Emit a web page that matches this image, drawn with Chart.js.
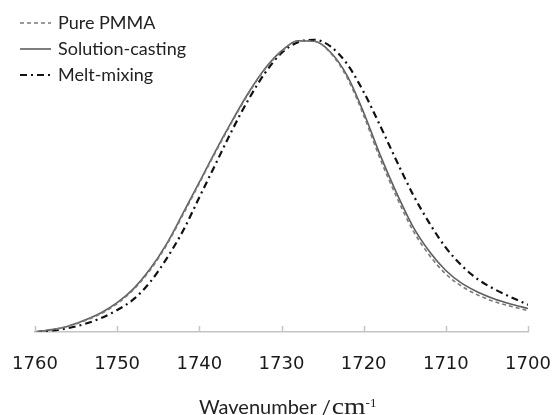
<!DOCTYPE html>
<html>
<head>
<meta charset="utf-8">
<script src="https://cdn.jsdelivr.net/npm/chart.js@4.4.0/dist/chart.umd.min.js"></script>
<style>
  html, body { margin: 0; padding: 0; background: #fff; }
  #wrap { width: 555px; height: 415px; position: relative; }
</style>
</head>
<body>
<div id="wrap"><canvas id="ftir"></canvas></div>
<script>
// C=O stretching band, normalised absorbance every 2 cm-1
var wavenumbers = [1760, 1758, 1756, 1754, 1752, 1750, 1748, 1746, 1744, 1742, 1740,
    1738, 1736, 1734, 1732, 1730, 1728, 1726, 1724, 1722, 1720,
    1718, 1716, 1714, 1712, 1710, 1708, 1706, 1704, 1702, 1700];

var purePMMA = [0.000, 0.007, 0.019, 0.038, 0.062, 0.097, 0.145, 0.211, 0.296, 0.400, 0.508,
    0.616, 0.719, 0.815, 0.898, 0.958, 0.994, 0.993, 0.952, 0.868, 0.740,
    0.592, 0.462, 0.347, 0.262, 0.198, 0.155, 0.125, 0.103, 0.087, 0.073];

var solutionCasting = [0.000, 0.008, 0.020, 0.040, 0.065, 0.100, 0.148, 0.215, 0.300, 0.405, 0.512,
    0.620, 0.722, 0.818, 0.900, 0.960, 0.995, 0.993, 0.955, 0.875, 0.750,
    0.605, 0.475, 0.360, 0.275, 0.210, 0.165, 0.135, 0.112, 0.095, 0.080];

var meltMixing = [0.000, 0.005, 0.013, 0.027, 0.047, 0.075, 0.112, 0.170, 0.250, 0.345, 0.460,
    0.575, 0.690, 0.795, 0.885, 0.953, 0.990, 0.998, 0.975, 0.915, 0.820,
    0.705, 0.585, 0.470, 0.372, 0.288, 0.225, 0.178, 0.145, 0.118, 0.093];

var xTicks = [1760, 1750, 1740, 1730, 1720, 1710, 1700];
var seriesNames = ['Pure PMMA', 'Solution-casting', 'Melt-mixing'];

function toPoints(values) {
    return wavenumbers.map(function (w, i) { return {x: w, y: values[i]}; });
}

// short tick marks pointing up into the plot
var innerTicks = {
    id: 'innerTicks',
    afterDraw: function (chart) {
        var ctx = chart.ctx, xs = chart.scales.x, bottom = chart.chartArea.bottom;
        ctx.save();
        ctx.strokeStyle = '#c4c4c4';
        ctx.lineWidth = 1.5;
        for (var v of xTicks) {
            var px = Math.round(xs.getPixelForValue(v)) + 0.5;
            ctx.beginPath();
            ctx.moveTo(px, bottom);
            ctx.lineTo(px, bottom - 6);
            ctx.stroke();
        }
        ctx.restore();
    }
};

// legend stacked in the top left corner
var cornerLegend = {
    id: 'cornerLegend',
    afterDraw: function (chart) {
        var ctx = chart.ctx;
        ctx.save();
        chart.data.datasets.forEach(function (ds, i) {
            var y = 23 + i * 26;
            ctx.setLineDash(ds.borderDash || []);
            ctx.strokeStyle = ds.borderColor;
            ctx.lineWidth = ds.borderWidth;
            ctx.beginPath();
            ctx.moveTo(20, y);
            ctx.lineTo(51, y);
            ctx.stroke();
            ctx.setLineDash([]);
            ctx.fillStyle = '#222';
            ctx.font = '18px Lato';
            ctx.textBaseline = 'alphabetic';
            ctx.fillText(ds.label, 58, y + 5.5);
        });
        ctx.restore();
    }
};

// axis title with a serif unit and superscript
var axisTitle = {
    id: 'axisTitle',
    afterDraw: function (chart) {
        var ctx = chart.ctx;
        var x = 199, y = 414;
        ctx.save();
        ctx.fillStyle = '#222';
        ctx.textBaseline = 'alphabetic';
        ctx.font = '20px Lato';
        var lead = 'Wavenumber /';
        ctx.fillText(lead, x, y);
        x += ctx.measureText(lead).width + 1;
        ctx.font = '24px "Liberation Serif"';
        ctx.save();
        ctx.translate(x, y);
        ctx.scale(1.15, 1);
        ctx.fillText('cm', 0, 0);
        x += ctx.measureText('cm').width * 1.15;
        ctx.restore();
        ctx.font = '13px "Liberation Serif"';
        ctx.fillText('-1', x, y - 7);
        ctx.restore();
    }
};

var ctx = document.getElementById('ftir').getContext('2d');

new Chart(ctx, {
    type: 'line',
    data: {
        datasets: [{
            label: seriesNames[0],
            data: toPoints(purePMMA),
            borderColor: '#7a7a7a',
            borderWidth: 1.6,
            borderDash: [4, 3]
        }, {
            label: seriesNames[1],
            data: toPoints(solutionCasting),
            borderColor: '#5e5e5e',
            borderWidth: 1.6
        }, {
            label: seriesNames[2],
            data: toPoints(meltMixing),
            borderColor: '#111',
            borderWidth: 2.2,
            borderDash: [7, 4, 2, 4]
        }]
    },
    options: {
        responsive: true,
        maintainAspectRatio: false,
        animation: false,
        layout: {padding: {left: 35, right: 27, top: 10, bottom: 44}},
        elements: {
            point: {radius: 0},
            line: {cubicInterpolationMode: 'monotone', fill: false}
        },
        plugins: {
            legend: {display: false},
            tooltip: {enabled: false}
        },
        scales: {
            x: {
                type: 'linear',
                reverse: true,
                min: 1700,
                max: 1760,
                afterBuildTicks: function (axis) {
                    axis.ticks = xTicks.map(function (v) { return {value: v}; });
                },
                afterFit: function (axis) {
                    axis.paddingLeft = 0;
                    axis.paddingRight = 0;
                    axis.height = 39;
                },
                grid: {display: false, drawTicks: false},
                border: {display: true, color: '#c4c4c4', width: 1.5},
                ticks: {
                    padding: 22,
                    color: '#1a1a1a',
                    font: {family: 'DejaVu Sans', size: 18},
                    maxRotation: 0,
                    callback: function (v) { return String(v); }
                }
            },
            y: {
                display: false,
                min: 0,
                max: 1.1
            }
        }
    },
    plugins: [innerTicks, cornerLegend, axisTitle]
});
</script>
</body>
</html>
